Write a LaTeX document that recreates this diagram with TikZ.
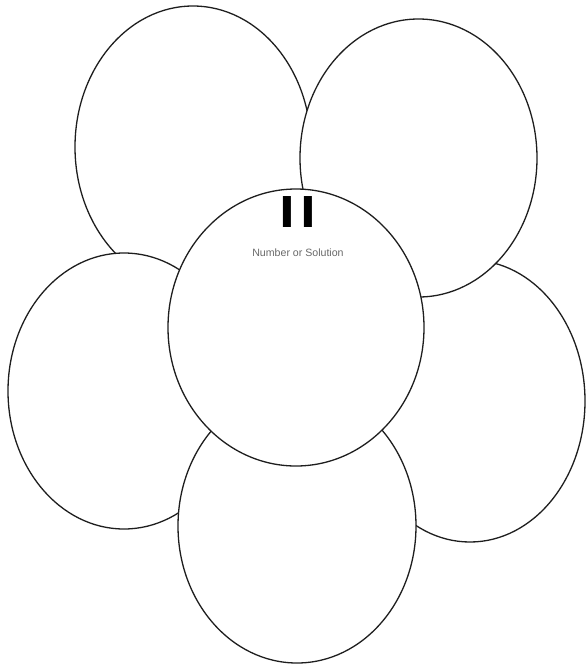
\documentclass[tikz,border=0pt]{standalone}
\usepackage{fontspec}
\setmainfont{Liberation Sans}
\newfontfamily\barfont{DejaVu Sans}
\usepackage{tikz}
\usetikzlibrary{shapes.geometric,positioning}
\definecolor{traitC}{RGB}{30,30,30}
\definecolor{grisC}{RGB}{105,105,105}
\tikzset{
  petal/.style={ellipse, draw=traitC, line width=1.3pt, fill=white, inner sep=0pt},
  legende/.style={inner sep=0pt, text=grisC, font=\fontsize{10.6}{11}\selectfont},
}
\begin{document}
\begin{tikzpicture}[x=1pt, y=-1pt, node distance=20pt]
    \useasboundingbox (0,0) rectangle (586,665);
    \node[petal, minimum width=236pt, minimum height=282pt] (haut gauche) at (193,147) {};
    \node[petal, minimum width=230pt, minimum height=282pt] (droite) at (470,401) {};
    \node[petal, minimum width=237pt, minimum height=278pt] (haut droite) at (418.5,158) {};
    \node[petal, minimum width=232pt, minimum height=276pt] (gauche) at (124,391) {};
    \node[petal, minimum width=238pt, minimum height=274pt] (bas) at (297,526) {};
    \node[petal, minimum width=256pt, minimum height=277pt] (coeur) at (296,327.5) {};
    \node[inner sep=0pt, font=\barfont\bfseries\fontsize{42.5}{42.5}\selectfont] (egal) at (298,212.5)
      {I\hspace{5pt}I};
    \node[legende, below=of egal] (sol) {Number or Solution};
  \end{tikzpicture}
\end{document}
